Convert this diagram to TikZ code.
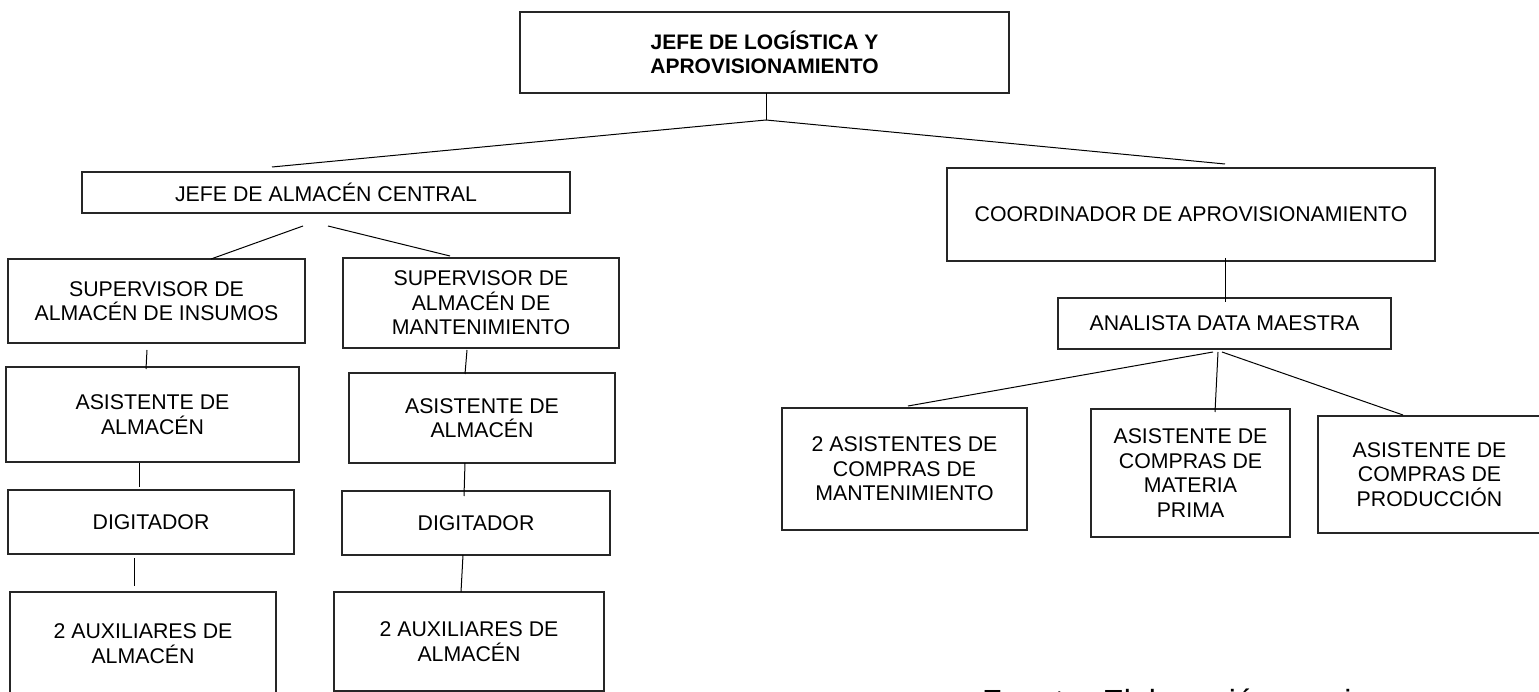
\documentclass[tikz,border=0pt]{standalone}
\usepackage{fontspec}
\setmainfont{Liberation Sans}
\begin{document}
\begin{tikzpicture}[x=1pt,y=-1pt,
  box/.style={draw=black!85, line width=1.2pt, inner sep=0pt, align=center,
    font=\fontsize{21.3}{24.5}\selectfont},
  conn/.style={draw=black, line width=1pt}]
\useasboundingbox (0,0) rectangle (1539,692);
% boxes
\node[box, minimum width=489, minimum height=81, font=\fontsize{21}{24.5}\selectfont\bfseries] (jla) at (764.5,52.5) {JEFE DE LOGÍSTICA Y\\APROVISIONAMIENTO};
\node[box, minimum width=488, minimum height=41] (jac) at (326,192.5) {JEFE DE ALMACÉN CENTRAL};
\node[box, minimum width=297, minimum height=84] (sins) at (156.5,301) {SUPERVISOR DE\\ALMACÉN DE INSUMOS};
\node[box, minimum width=276, minimum height=90] (smant) at (481,303) {SUPERVISOR DE\\ALMACÉN DE\\MANTENIMIENTO};
\node[box, minimum width=293, minimum height=95] (asl) at (152.5,414.5) {ASISTENTE DE\\ALMACÉN};
\node[box, minimum width=286, minimum height=64] (digl) at (151,522) {DIGITADOR};
\node[box, minimum width=266, minimum height=103] (auxl) at (143,643.5) {2 AUXILIARES DE\\ALMACÉN};
\node[box, minimum width=266, minimum height=90] (asr) at (482,418) {ASISTENTE DE\\ALMACÉN};
\node[box, minimum width=268, minimum height=64] (digr) at (476,523) {DIGITADOR};
\node[box, minimum width=270, minimum height=99] (auxr) at (469,641.5) {2 AUXILIARES DE\\ALMACÉN};
\node[box, minimum width=488, minimum height=93] (coord) at (1191,214.5) {COORDINADOR DE APROVISIONAMIENTO};
\node[box, minimum width=333, minimum height=51] (ana) at (1224.5,323.5) {ANALISTA DATA MAESTRA};
\node[box, minimum width=245, minimum height=122] (casm) at (904.5,469) {2 ASISTENTES DE\\COMPRAS DE\\MANTENIMIENTO};
\node[box, minimum width=199, minimum height=128] (casmp) at (1190.5,473) {ASISTENTE DE\\COMPRAS DE\\MATERIA\\PRIMA};
\node[box, minimum width=223, minimum height=117] (casp) at (1429.5,474.5) {ASISTENTE DE\\COMPRAS DE\\PRODUCCIÓN};
\node[anchor=base west, inner sep=0pt, font=\fontsize{32}{38}\selectfont] (fuente) at (982,712) {Fuente: Elaboración propia};
% connector points
\coordinate (t0) at (766,93);
\coordinate (t1) at (766,120);
\coordinate (tl) at (272,167);
\coordinate (tr) at (1225,164);
\coordinate (ja) at (303,226);
\coordinate (jb) at (211,259);
\coordinate (jc) at (328,226);
\coordinate (jd) at (450,256);
\coordinate (l1a) at (147,350); \coordinate (l1b) at (146,369);
\coordinate (l2a) at (139,463); \coordinate (l2b) at (139,487);
\coordinate (l3a) at (134,558); \coordinate (l3b) at (134,586);
\coordinate (r1a) at (467,350); \coordinate (r1b) at (465,374);
\coordinate (r2a) at (465,463); \coordinate (r2b) at (464,496);
\coordinate (r3a) at (463,555); \coordinate (r3b) at (461,592);
\coordinate (c1a) at (1225,258); \coordinate (c1b) at (1225,302);
\coordinate (a1) at (1213,352); \coordinate (a1e) at (908,406);
\coordinate (a2) at (1218,352); \coordinate (a2e) at (1215,412);
\coordinate (a3) at (1222,352); \coordinate (a3e) at (1403,415);
% connectors
\draw[conn] (t0) -- (t1);
\draw[conn] (t1) -- (tl);
\draw[conn] (t1) -- (tr);
\draw[conn] (ja) -- (jb);
\draw[conn] (jc) -- (jd);
\draw[conn] (l1a) -- (l1b);
\draw[conn] (l2a) -- (l2b);
\draw[conn] (l3a) -- (l3b);
\draw[conn] (r1a) -- (r1b);
\draw[conn] (r2a) -- (r2b);
\draw[conn] (r3a) -- (r3b);
\draw[conn] (c1a) -- (c1b);
\draw[conn] (a1) -- (a1e);
\draw[conn] (a2) -- (a2e);
\draw[conn] (a3) -- (a3e);
\end{tikzpicture}
\end{document}
